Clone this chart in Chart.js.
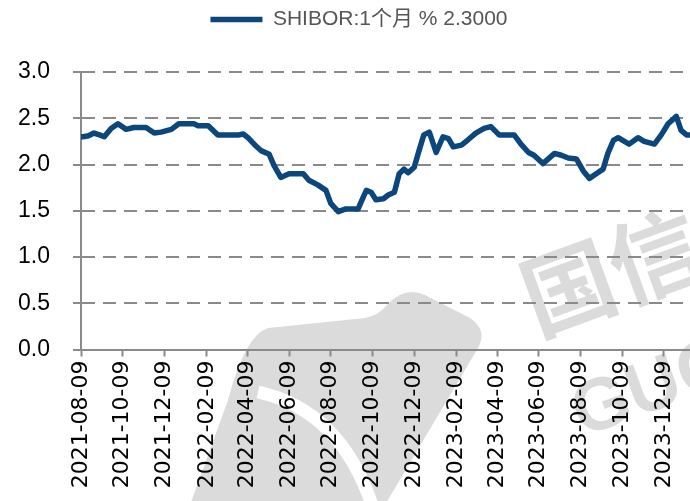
<!DOCTYPE html>
<html lang="zh">
<head>
<meta charset="UTF-8">
<title>SHIBOR 1个月</title>
<script src="https://cdn.jsdelivr.net/npm/chart.js@4"></script>
<style>
  html, body { margin: 0; padding: 0; background: #fff; overflow: hidden; }
</style>
</head>
<body>
<canvas id="chart" width="690" height="520"></canvas>
<script>
// SHIBOR 1M
const dates = [
  '2021-08-09', '2021-08-12', '2021-08-20', '2021-08-28', '2021-09-05', '2021-09-12',
  '2021-09-22', '2021-10-02', '2021-10-14', '2021-10-25', '2021-11-12', '2021-11-24',
  '2021-12-04', '2021-12-19', '2021-12-30', '2022-01-21', '2022-01-27', '2022-02-11',
  '2022-02-25', '2022-03-28', '2022-04-03', '2022-04-10', '2022-04-19', '2022-04-29',
  '2022-05-11', '2022-05-18', '2022-05-28', '2022-06-09', '2022-06-30', '2022-07-08',
  '2022-07-21', '2022-08-02', '2022-08-09', '2022-08-20', '2022-08-31', '2022-09-18',
  '2022-09-25', '2022-09-30', '2022-10-07', '2022-10-14', '2022-10-25', '2022-11-01',
  '2022-11-10', '2022-11-17', '2022-11-24', '2022-11-30', '2022-12-09', '2022-12-16',
  '2022-12-23', '2022-12-31', '2023-01-10', '2023-01-20', '2023-01-28', '2023-02-04',
  '2023-02-16', '2023-02-26', '2023-03-09', '2023-03-21', '2023-03-31', '2023-04-12',
  '2023-05-04', '2023-05-14', '2023-05-25', '2023-06-02', '2023-06-15', '2023-07-02',
  '2023-07-12', '2023-07-22', '2023-08-03', '2023-08-13', '2023-08-22', '2023-09-01',
  '2023-09-11', '2023-09-18', '2023-09-26', '2023-10-03', '2023-10-19', '2023-11-01',
  '2023-11-10', '2023-11-25', '2023-12-05', '2023-12-15', '2023-12-27', '2024-01-03',
  '2024-01-11', '2024-01-16'
];
const shibor1m = [
  2.30, 2.30, 2.31, 2.34, 2.32, 2.30,
  2.39, 2.44, 2.38, 2.40, 2.40, 2.34,
  2.35, 2.38, 2.44, 2.44, 2.42, 2.42,
  2.32, 2.32, 2.33, 2.29, 2.22, 2.15,
  2.11, 1.99, 1.86, 1.90, 1.90, 1.83,
  1.78, 1.72, 1.58, 1.49, 1.52, 1.52,
  1.64, 1.72, 1.70, 1.62, 1.63, 1.67,
  1.70, 1.90, 1.95, 1.91, 1.97, 2.15,
  2.32, 2.35, 2.13, 2.30, 2.28, 2.19,
  2.21, 2.27, 2.34, 2.39, 2.41, 2.32,
  2.32, 2.22, 2.13, 2.10, 2.01, 2.12,
  2.10, 2.07, 2.06, 1.93, 1.85, 1.90,
  1.95, 2.12, 2.26, 2.29, 2.22, 2.29,
  2.25, 2.22, 2.32, 2.44, 2.52, 2.37,
  2.32, 2.32
];
const tickDates = [
  '2021-08-09', '2021-10-09', '2021-12-09', '2022-02-09', '2022-04-09',
  '2022-06-09', '2022-08-09', '2022-10-09', '2022-12-09', '2023-02-09',
  '2023-04-09', '2023-06-09', '2023-08-09', '2023-10-09', '2023-12-09'
];
const yTicks = [0, 0.5, 1.0, 1.5, 2.0, 2.5, 3.0];
const seriesName = 'SHIBOR:1个月 % 2.3000';
const axisEnd = '2024-01-16';

const startMs = Date.parse(dates[0]);
const dayOf = d => Math.round((Date.parse(d) - startMs) / 86400000);
const tickLabel = new Map(tickDates.map(d => [dayOf(d), d]));

const lineBlue = '#0b477c';
const axisGrey = '#8a8a8a';
const markGrey = 'rgba(0,0,0,0.14)';
const canvasH = 520;

const tweaks = {
  id: 'tweaks',
  beforeLayout(chart) {
    const lg = chart.legend;
    if (lg && !lg._patched) {
      const fit = lg.fit.bind(lg);
      lg.fit = function () { fit(); this.height = 72; };
      lg._patched = true;
    }
  },
  afterLayout(chart) {
    chart.legend.left += 14;
    chart.legend.right += 14;
  },
  beforeDraw(chart) {
    // background watermark (logo)
    const ctx = chart.ctx;
    ctx.save();
    ctx.fillStyle = markGrey;
    ctx.beginPath();
    ctx.moveTo(268, 328);
    ctx.lineTo(365, 318);
    ctx.quadraticCurveTo(378, 316, 388, 304);
    ctx.quadraticCurveTo(405, 286, 425, 295);
    ctx.lineTo(470, 318);
    ctx.quadraticCurveTo(488, 330, 478, 348);
    ctx.lineTo(385, 505);
    ctx.lineTo(190, 505);
    ctx.lineTo(228, 400);
    ctx.quadraticCurveTo(245, 335, 268, 328);
    ctx.closePath();
    ctx.fill();
    ctx.strokeStyle = '#fff';
    ctx.lineWidth = 13;
    ctx.beginPath();
    ctx.moveTo(258, 392);
    ctx.quadraticCurveTo(340, 410, 372, 505);
    ctx.stroke();

    ctx.translate(570, 287);
    ctx.rotate(-0.35);
    ctx.font = 'bold 92px "Noto Sans CJK SC"';
    ctx.textAlign = 'left';
    ctx.textBaseline = 'middle';
    ctx.fillText('国信', -48, 0);
    ctx.font = 'bold 74px "Liberation Sans"';
    ctx.fillText('GUOSEN', -40, 125);
    ctx.restore();
  }
};

new Chart(document.getElementById('chart'), {
  type: 'line',
  data: {
    datasets: [{
      label: seriesName,
      data: dates.map((d, i) => ({ x: dayOf(d), y: shibor1m[i] })),
      borderColor: lineBlue,
      backgroundColor: lineBlue,
      borderWidth: 5.5,
      borderCapStyle: 'round',
      borderJoinStyle: 'round',
      pointRadius: 0,
      tension: 0
    }]
  },
  options: {
    responsive: false,
    animation: false,
    layout: { padding: 0 },
    plugins: {
      legend: {
        position: 'top',
        labels: {
          usePointStyle: true,
          pointStyle: 'line',
          pointStyleWidth: 52,
          padding: 9,
          color: '#555',
          font: { family: '"Liberation Sans", "Noto Sans CJK SC"', size: 21 }
        }
      },
      tooltip: { enabled: false }
    },
    scales: {
      x: {
        type: 'linear',
        min: 0,
        max: dayOf(axisEnd),
        afterBuildTicks: s => { s.ticks = tickDates.map(d => ({ value: dayOf(d) })); },
        afterFit: s => {
          s.height = canvasH - 349.5;
          s.paddingLeft = 0;
          s.paddingRight = 0;
        },
        ticks: {
          autoSkip: false,
          minRotation: 90,
          maxRotation: 90,
          padding: 4,
          color: '#000',
          font: { family: '"DejaVu Sans"', size: 22 },
          callback: v => tickLabel.get(v) || ''
        },
        grid: { drawOnChartArea: false, drawTicks: true, tickLength: 7, tickColor: axisGrey, tickWidth: 2 },
        border: { color: axisGrey, width: 2 }
      },
      y: {
        min: 0,
        max: 3,
        afterBuildTicks: s => { s.ticks = yTicks.map(v => ({ value: v })); },
        afterFit: s => { s.width = 81; },
        ticks: {
          padding: 23,
          color: '#000',
          font: { family: '"Liberation Sans"', size: 23 },
          callback: v => v.toFixed(1)
        },
        grid: { color: axisGrey, lineWidth: 2, drawTicks: true, tickLength: 8, tickColor: axisGrey, tickWidth: 2 },
        border: { color: axisGrey, width: 2, dash: [13, 8] }
      }
    }
  },
  plugins: [tweaks]
});
</script>
</body>
</html>
